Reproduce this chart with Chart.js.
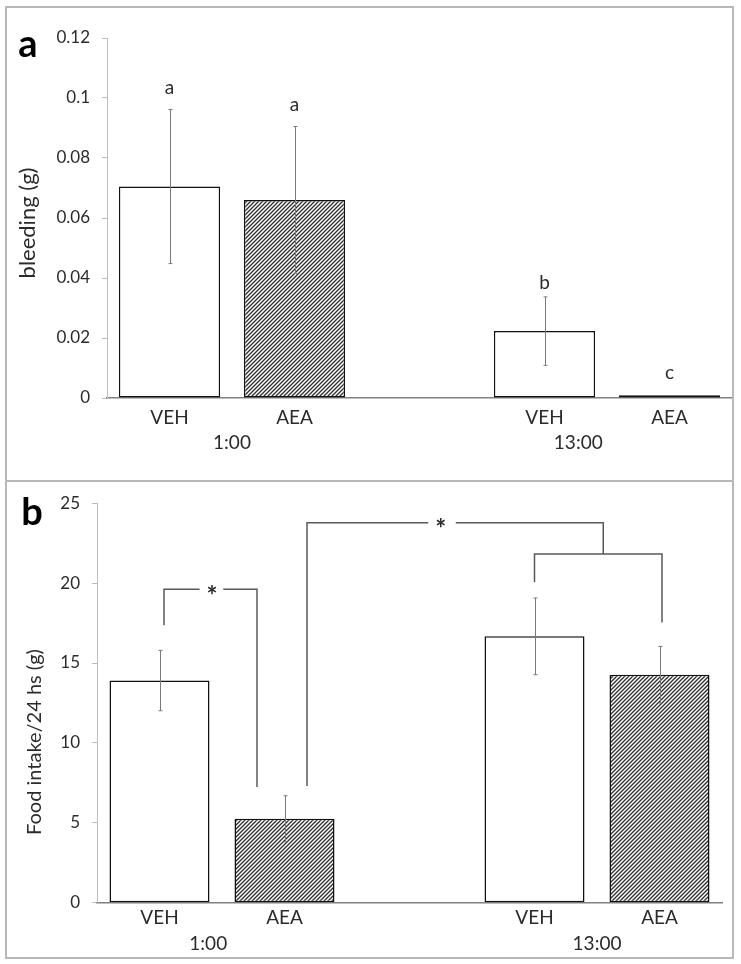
<!DOCTYPE html>
<html>
<head>
<meta charset="utf-8">
<script src="https://cdn.jsdelivr.net/npm/chart.js@4.4.1/dist/chart.umd.min.js"></script>
<style>
  body { margin: 0; background: #fff; }
  .wrap { position: absolute; left: 0; width: 741px; }
  #wrapA { top: 0; height: 481px; }
  #wrapB { top: 481px; height: 483px; }
  .box { position: absolute; box-sizing: border-box; border: 2px solid #b8b8b8; pointer-events: none; }
</style>
</head>
<body>
<div class="wrap" id="wrapA"><canvas id="chartA"></canvas></div>
<div class="wrap" id="wrapB"><canvas id="chartB"></canvas></div>
<div class="box" style="left:5px;top:6px;width:729px;height:476px"></div>
<div class="box" style="left:5px;top:480px;width:729px;height:479px"></div>

<script>
// categories (middle slot is the gap between the two times)
const categories = ["VEH", "AEA", "", "VEH", "AEA"];
const groupLabels = ["1:00", "13:00"];

// panel a: bleeding (g)
const bleedMean = [0.0705, 0.066, null, 0.0223, 0.0009];
const bleedErr = [0.0257, 0.0245, null, 0.0114, 0];
const bleedLetters = ["a", "a", "", "b", "c"];
const bleedLetterY = [0.1033, 0.0977, null, 0.0383, 0.0083];
const bleedTicks = [0, 0.02, 0.04, 0.06, 0.08, 0.1, 0.12];

// panel b: food intake/24 hs (g)
const foodMean = [13.9, 5.25, null, 16.67, 14.27];
const foodErr = [1.89, 1.44, null, 2.4, 1.77];
const foodTicks = [0, 5, 10, 15, 20, 25];

// significance brackets for panel b, in (category index, value) pairs
const foodBrackets = [
  [[0.036, 17.36], [0.036, 19.62], [0.32, 19.62]],
  [[0.51, 19.62], [0.78, 19.62], [0.78, 7.24]],
  [[1.18, 7.3], [1.18, 23.77], [2.15, 23.77]],
  [[2.37, 23.77], [3.55, 23.77], [3.55, 21.82]],
  [[3.0, 20.05], [3.0, 21.82], [4.02, 21.82], [4.02, 17.54]]
];
const foodStars = [[0.42, 19.62], [2.25, 23.77]];

Chart.defaults.font.family = "Lato, 'Open Sans', sans-serif";
Chart.defaults.color = "#2b2b2b";

// diagonal hatch used for the AEA bars
function hatch() {
  const c = document.createElement("canvas");
  c.width = c.height = 4;
  const g = c.getContext("2d");
  g.fillStyle = "#fff";
  g.fillRect(0, 0, 4, 4);
  g.strokeStyle = "#2e2e2e";
  g.lineWidth = 1.3;
  g.beginPath();
  g.moveTo(0, 4); g.lineTo(4, 0);
  g.moveTo(-1, 1); g.lineTo(1, -1);
  g.moveTo(3, 5); g.lineTo(5, 3);
  g.stroke();
  return g.createPattern(c, "repeat");
}
const hatchFill = hatch();
const fills = ["#fff", hatchFill, "#fff", "#fff", hatchFill];

// error bars, letters, group labels, titles, brackets
function extras(cfg) {
  return {
    id: "extras",
    afterDatasetsDraw(chart) {
      const ctx = chart.ctx;
      const x = chart.scales.x, y = chart.scales.y;
      const area = chart.chartArea;
      ctx.save();

      ctx.strokeStyle = "#7a7a7a";
      ctx.lineWidth = 1;
      cfg.mean.forEach((m, i) => {
        const e = cfg.err[i];
        if (m == null || !e) return;
        const px = Math.round(x.getPixelForValue(i)) + 0.5;
        const t = y.getPixelForValue(m + e), b = y.getPixelForValue(m - e);
        ctx.beginPath();
        ctx.moveTo(px, t); ctx.lineTo(px, b);
        ctx.moveTo(px - 2, t); ctx.lineTo(px + 2, t);
        ctx.moveTo(px - 2, b); ctx.lineTo(px + 2, b);
        ctx.stroke();
      });

      ctx.fillStyle = "#2b2b2b";
      ctx.textAlign = "center";
      ctx.textBaseline = "middle";
      if (cfg.letters) {
        ctx.font = "19px Lato, sans-serif";
        cfg.letters.forEach((l, i) => {
          if (!l) return;
          ctx.fillText(l, x.getPixelForValue(i), y.getPixelForValue(cfg.letterY[i]));
        });
      }

      if (cfg.brackets) {
        ctx.strokeStyle = "#595959";
        ctx.lineWidth = 1.5;
        cfg.brackets.forEach(line => {
          ctx.beginPath();
          line.forEach(([i, v], k) => {
            const px = x.getPixelForValue(i), py = y.getPixelForValue(v);
            k ? ctx.lineTo(px, py) : ctx.moveTo(px, py);
          });
          ctx.stroke();
        });
        ctx.font = "bold 26px Lato, sans-serif";
        cfg.stars.forEach(([i, v]) => {
          ctx.fillText("*", x.getPixelForValue(i), y.getPixelForValue(v) + 7);
        });
      }

      ctx.font = "19px Lato, sans-serif";
      groupLabels.forEach((g, k) => {
        ctx.fillText(g, x.getPixelForValue(cfg.groupAt[k]), area.bottom + cfg.groupDy);
      });

      ctx.font = cfg.titleSize + "px Lato, sans-serif";
      ctx.save();
      ctx.translate(cfg.titleX, cfg.titleY);
      ctx.rotate(-Math.PI / 2);
      ctx.fillText(cfg.title, 0, 0);
      ctx.restore();

      ctx.font = "bold 38px Lato, sans-serif";
      ctx.fillStyle = "#000";
      ctx.fillText(cfg.panel, cfg.panelX, cfg.panelY);
      ctx.restore();
    }
  };
}

function makeChart(id, mean, ticks, fmt, box, barPct, xPad, cfg) {
  return new Chart(document.getElementById(id), {
    type: "bar",
    data: {
      labels: categories,
      datasets: [{
        data: mean,
        backgroundColor: fills,
        borderColor: "#111",
        borderWidth: 1.5,
        borderSkipped: false,
        categoryPercentage: 1,
        barPercentage: barPct
      }]
    },
    options: {
      responsive: true,
      maintainAspectRatio: false,
      animation: false,
      layout: { padding: { left: 0, top: box.top, right: box.right, bottom: 0 } },
      plugins: { legend: { display: false }, tooltip: { enabled: false } },
      scales: {
        x: {
          grid: { display: false, drawTicks: false },
          border: { display: true, color: "#808080", width: 1.5 },
          ticks: { autoSkip: false, maxRotation: 0, padding: xPad, font: { size: 19 } },
          afterFit: s => { s.height = box.xh; }
        },
        y: {
          min: ticks[0],
          max: ticks[ticks.length - 1],
          grid: { display: true, drawOnChartArea: false, drawTicks: true, tickLength: 5, color: "#bdbdbd" },
          border: { display: true, color: "#bdbdbd", width: 1 },
          ticks: { padding: 12, font: { size: 17 }, callback: fmt },
          afterBuildTicks: s => { s.ticks = ticks.map(v => ({ value: v })); },
          afterFit: s => { s.width = box.left; }
        }
      }
    },
    plugins: [extras(cfg)]
  });
}

makeChart("chartA", bleedMean, bleedTicks, v => String(+v.toFixed(2)),
  { top: 38, right: 9, xh: 83, left: 107 }, 0.81, 8,
  { mean: bleedMean, err: bleedErr, letters: bleedLetters, letterY: bleedLetterY,
    groupAt: [0.5, 3.27], groupDy: 45,
    title: "bleeding (g)", titleSize: 22, titleX: 28, titleY: 223,
    panel: "a", panelX: 28, panelY: 45 });

makeChart("chartB", foodMean, foodTicks, v => String(v),
  { top: 11.7, right: 19, xh: 61.3, left: 97 }, 0.8, 4,
  { mean: foodMean, err: foodErr, brackets: foodBrackets, stars: foodStars,
    groupAt: [0.39, 3.5], groupDy: 41,
    title: "Food intake/24 hs (g)", titleSize: 20, titleX: 35, titleY: 261,
    panel: "b", panelX: 32, panelY: 32 });
</script>
</body>
</html>
